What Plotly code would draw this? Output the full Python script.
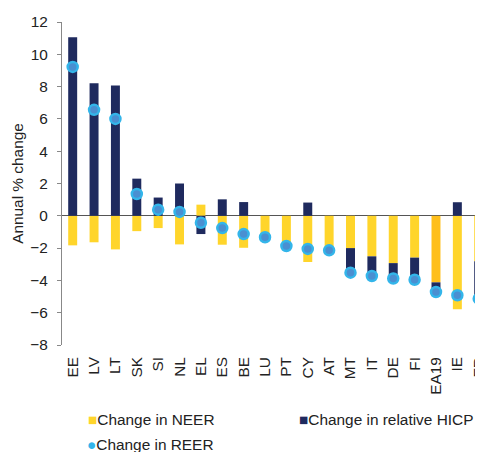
import plotly.graph_objs as go

countries = ["EE", "LV", "LT", "SK", "SI", "NL", "EL", "ES", "BE", "LU",
             "PT", "CY", "AT", "MT", "IT", "DE", "FI", "EA19", "IE", "FR"]
neer = [-1.83, -1.64, -2.08, -0.95, -0.76, -1.77, 0.69, -1.79, -1.98, -1.25,
        -1.80, -2.86, -2.10, -2.00, -2.51, -2.93, -2.59, -4.12, -5.78, -2.82]
hicp = [11.05, 8.20, 8.07, 2.30, 1.13, 2.00, -1.13, 1.02, 0.85, -0.08,
        -0.07, 0.82, -0.04, -1.52, -1.22, -0.95, -1.37, -0.60, 0.84, -2.31]
reer = [9.22, 6.56, 6.00, 1.35, 0.38, 0.24, -0.43, -0.76, -1.13, -1.33,
        -1.87, -2.05, -2.14, -3.52, -3.73, -3.88, -3.96, -4.72, -4.92, -5.13]

YELLOW = "#ffd52b"
ORANGE = "#ffbf1a"
NAVY = "#1f2a5e"
DOT = "#4a8fd1"
RING = "#33b5ea"
neer_colors = [ORANGE if c == "EA19" else YELLOW for c in countries]

fig = go.Figure()
fig.add_trace(go.Bar(x=countries, y=neer, name="Change in NEER",
                     marker=dict(color=neer_colors, line_width=0), width=0.42))
fig.add_trace(go.Bar(x=countries, y=hicp, name="Change in relative HICP",
                     marker=dict(color=NAVY, line_width=0), width=0.42))
fig.add_trace(go.Scatter(x=countries, y=reer, name="Change in REER", mode="markers",
                         marker=dict(color=DOT, size=10,
                                     line=dict(color=RING, width=2.5)),
                         cliponaxis=False))

# legend drawn as text so the swatches sit right beside the labels
legend_items = [
    ("■", YELLOW, "Change in NEER", 0.057, -0.232),
    ("■", NAVY, "Change in relative HICP", 0.558, -0.232),
    ("●", RING, "Change in REER", 0.055, -0.307),
]
for sym, col, label, lx, ly in legend_items:
    fig.add_annotation(x=lx, y=ly, xref="paper", yref="paper", xanchor="left",
                       yanchor="middle", showarrow=False,
                       text=f"<span style='color:{col}'>{sym}</span>{label}",
                       font=dict(size=15.4, color="#222"))

# page body has an 8px margin, so the figure is 8px smaller and margins shifted
fig.update_layout(
    barmode="relative",
    width=475, height=444,
    margin=dict(l=54, r=0, t=14, b=107),
    paper_bgcolor="white", plot_bgcolor="white",
    font=dict(family="Arial, Liberation Sans, sans-serif", size=15, color="#222"),
    showlegend=False,
)
fig.update_xaxes(range=[-0.5, 19.2], tickangle=-90, showline=False, ticks="",
                 showgrid=False, zeroline=False, tickfont=dict(size=15.4),
                 automargin=False, ticklabelstandoff=8)
fig.update_yaxes(range=[-8, 12], dtick=2, showgrid=False, showline=True,
                 linecolor="#888", linewidth=1, ticks="outside", ticklen=4,
                 tickcolor="#888", zeroline=True, zerolinecolor="#555",
                 zerolinewidth=1, automargin=False, ticklabelstandoff=6,
                 title=dict(text="Annual % change", standoff=2, font=dict(size=15.4)),
                 tickfont=dict(size=15.4))

fig.write_html("out.html")
